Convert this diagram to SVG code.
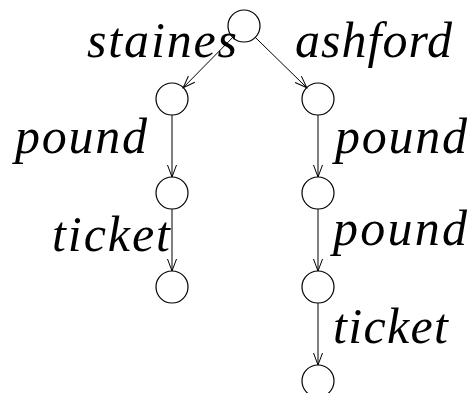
<svg xmlns="http://www.w3.org/2000/svg" width="470" height="393" viewBox="0 0 470 393">
<defs>
<style>
.n{fill:none;stroke:#000;stroke-width:1.2}
.e{fill:none;stroke:#000;stroke-width:1;marker-end:url(#a)}
</style>
<marker id="a" markerUnits="userSpaceOnUse" markerWidth="16" markerHeight="12" viewBox="-13 -6 14 12" refX="0" refY="0" orient="auto">
<path d="M-12,-4.5 L0,0 L-12,4.5" fill="none" stroke="#000" stroke-width="1"/>
</marker>
</defs>
<rect width="470" height="393" fill="#fff"/>
<g id="edges">
<line class="e" x1="232.8" y1="37.3" x2="183.2" y2="87.7"/>
<line class="e" x1="255.2" y1="37.3" x2="306.8" y2="87.7"/>
<line class="e" x1="172" y1="115" x2="172" y2="177"/>
<line class="e" x1="172" y1="209" x2="172" y2="271"/>
<line class="e" x1="318" y1="115" x2="318" y2="177"/>
<line class="e" x1="318" y1="209" x2="318" y2="271"/>
<line class="e" x1="318" y1="303" x2="318" y2="365"/>
</g>
<g id="root"><circle class="n" cx="244" cy="26" r="16"/></g>
<g id="L1"><circle class="n" cx="172" cy="99" r="16"/></g>
<g id="L2"><circle class="n" cx="172" cy="193" r="16"/></g>
<g id="L3"><circle class="n" cx="172" cy="287" r="16"/></g>
<g id="R1"><circle class="n" cx="318" cy="99" r="16"/></g>
<g id="R2"><circle class="n" cx="318" cy="193" r="16"/></g>
<g id="R3"><circle class="n" cx="318" cy="287" r="16"/></g>
<g id="R4"><circle class="n" cx="318" cy="381" r="16"/></g>
<g id="labels" font-family="'Liberation Serif', serif" font-style="italic" font-size="50" fill="#000">
<text x="87" y="57" textLength="150" lengthAdjust="spacing">staines</text>
<text x="295" y="57" textLength="157" lengthAdjust="spacing">ashford</text>
<text x="15" y="153" textLength="132" lengthAdjust="spacing">pound</text>
<text x="335" y="153" textLength="132" lengthAdjust="spacing">pound</text>
<text x="52" y="251" textLength="118" lengthAdjust="spacing">ticket</text>
<text x="333" y="245" textLength="134" lengthAdjust="spacing">pound</text>
<text x="333" y="343" textLength="115" lengthAdjust="spacing">ticket</text>
</g>
</svg>
